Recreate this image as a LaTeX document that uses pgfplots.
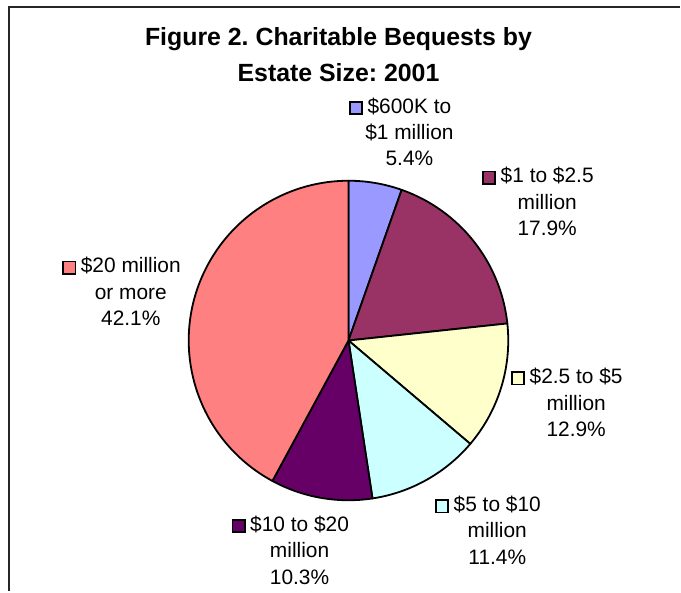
\documentclass[border=0pt]{standalone}
\usepackage{pgfplots}
\usepackage{pgfplotstable}
\pgfplotsset{compat=1.18}
\usepackage{fontspec}
\setmainfont{Liberation Sans}
\frenchspacing
\definecolor{c1}{HTML}{9999FF}
\definecolor{c2}{HTML}{993366}
\definecolor{c3}{HTML}{FFFFCC}
\definecolor{c4}{HTML}{CCFFFF}
\definecolor{c5}{HTML}{660066}
\definecolor{c6}{HTML}{FF8080}
\pgfplotstableread{
pct col
5.4 c1
17.9 c2
12.9 c3
11.4 c4
10.3 c5
42.1 c6
}\piedata
\pgfplotstablecreatecol[expr accum={\pgfmathaccuma+\thisrow{pct}}{0}]{acc}\piedata
\newcommand{\sq}[1]{\llap{\setlength\fboxrule{1.8bp}\setlength\fboxsep{0pt}\fcolorbox{black}{#1}{\rule{0pt}{10.5bp}\rule{10.5bp}{0pt}}\hspace{4.5bp}}}
\begin{document}
\begin{tikzpicture}
\begin{axis}[scale only axis, width=681bp, height=592bp, xmin=0, xmax=681, ymin=0, ymax=592, hide axis, clip=false]
\fill[white] (axis cs:0,0) rectangle (axis cs:681,592);
\draw[line width=2bp, black!85] (axis cs:9.5,0) -- (axis cs:9.5,584.5) -- (axis cs:681,584.5);
\pgfplotstablegetrowsof{\piedata}
\pgfmathtruncatemacro{\nrows}{\pgfplotsretval-1}
\foreach \i in {0,...,\nrows}{
  \pgfplotstablegetelem{\i}{pct}\of{\piedata}\let\slicepct\pgfplotsretval
  \pgfplotstablegetelem{\i}{acc}\of{\piedata}\let\sliceacc\pgfplotsretval
  \pgfplotstablegetelem{\i}{col}\of{\piedata}\let\slicecol\pgfplotsretval
  \pgfmathsetmacro{\angA}{90-3.6*(\sliceacc-\slicepct)}
  \pgfmathsetmacro{\angB}{90-3.6*\sliceacc}
  \edef\tmp{\noexpand\filldraw[fill=\slicecol, draw=black, line width=1.8bp, line join=round] (axis cs:349,251) -- ++(\angA:160bp) arc[start angle=\angA, end angle=\angB, radius=160bp] -- cycle;}
  \tmp
}
\node[align=center, font=\bfseries\fontsize{25}{36}\selectfont] at (axis cs:339,537) {Figure 2. Charitable Bequests by\\Estate Size: 2001};
\tikzset{lab/.style={align=center, font=\fontsize{21}{26.5}\selectfont}}
\node[lab] at (axis cs:410,460) {\sq{c1}\$600K to\\\$1 million\\5.4\%};
\node[lab] at (axis cs:548,390) {\sq{c2}\$1 to \$2.5\\million\\17.9\%};
\node[lab] at (axis cs:577,189) {\sq{c3}\$2.5 to \$5\\million\\12.9\%};
\node[lab] at (axis cs:498,61) {\sq{c4}\$5 to \$10\\million\\11.4\%};
\node[lab] at (axis cs:300,41) {\sq{c5}\$10 to \$20\\million\\10.3\%};
\node[lab] at (axis cs:131,300) {\sq{c6}\$20 million\\or more\\42.1\%};
\end{axis}
\end{tikzpicture}
\end{document}
